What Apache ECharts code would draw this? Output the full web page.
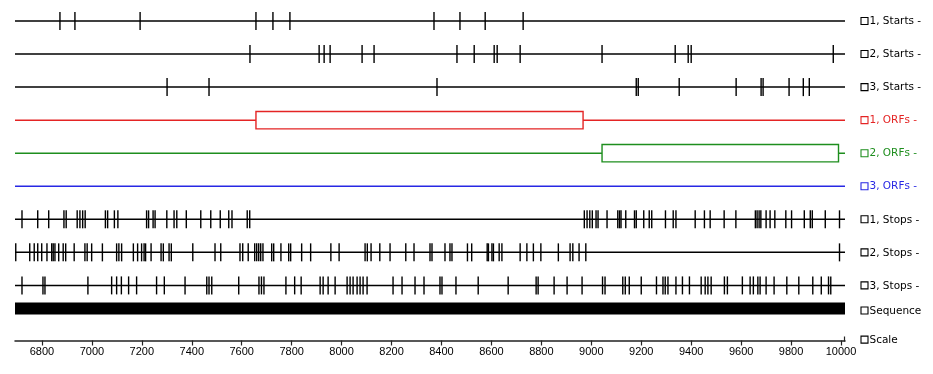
<!DOCTYPE html>
<html><head><meta charset="utf-8">
<script src="https://cdn.jsdelivr.net/npm/echarts@6/dist/echarts.min.js"></script>
<style>html,body{margin:0;padding:0;background:#fff}#c{width:933px;height:374px}</style>
</head><body><div id="c"></div>
<script>
// ---- data ----
const seqStart = 6692, seqEnd = 10016;
const scaleTicks = [6800,7000,7200,7400,7600,7800,8000,8200,8400,8600,8800,9000,9200,9400,9600,9800,10000];
const rowLabels = ['1, Starts -','2, Starts -','3, Starts -','1, ORFs -','2, ORFs -','3, ORFs -','1, Stops -','2, Stops -','3, Stops -','Sequence','Scale'];
const starts1 = [6872,6932,7193,7657,7725,7793,8370,8474,8575,8727];
const starts2 = [7633,7910,7930,7954,8082,8130,8462,8531,8611,8623,8715,9043,9336,9388,9400,9969];
const starts3 = [7301,7469,8382,9180,9188,9352,9580,9680,9688,9792,9849,9873];
const orfs1 = [[7657,8967]];
const orfs2 = [[9043,9990]];
const orfs3 = [];
const stops1 = [6720,6783,6827,6888,6897,6941,6952,6963,6973,7054,7063,7090,7104,7219,7227,7245,7253,7300,7329,7340,7378,7436,7476,7514,7548,7561,7622,7632,8972,8983,8994,9004,9019,9027,9063,9106,9113,9119,9138,9173,9180,9210,9232,9242,9297,9328,9339,9416,9453,9476,9532,9579,9657,9664,9672,9679,9700,9716,9735,9779,9802,9853,9877,9885,9937,9994];
const stops2 = [6695,6751,6769,6783,6799,6820,6839,6845,6852,6867,6885,6895,6929,6972,6981,6999,7042,7099,7108,7119,7166,7183,7199,7209,7215,7237,7277,7286,7309,7318,7404,7493,7516,7593,7604,7626,7652,7660,7668,7676,7685,7720,7728,7757,7788,7796,7840,7876,7957,7990,8094,8103,8118,8153,8194,8257,8290,8354,8362,8414,8434,8442,8504,8521,8583,8588,8602,8608,8631,8642,8715,8742,8768,8798,8868,8915,8926,8951,8978,9994];
const stops3 = [6720,6804,6812,6984,7079,7099,7118,7147,7179,7259,7290,7373,7460,7469,7480,7588,7669,7679,7689,7777,7812,7838,7914,7926,7946,7974,8022,8034,8046,8062,8074,8086,8102,8206,8242,8294,8330,8394,8402,8458,8547,8667,8779,8787,8851,8903,8963,9045,9055,9126,9136,9152,9200,9261,9287,9296,9307,9339,9365,9393,9440,9456,9467,9480,9533,9545,9605,9636,9649,9667,9676,9700,9732,9783,9831,9887,9921,9950,9959];

// ---- layout / styling ----
const Y_MIN = -0.5, Y_MAX = 9.667;
const rowPos = [0,1,2,3,4,5,6,7,8,8.7,Y_MAX];
const labelPos = [0,1,2,3,4,5,6,7,8,8.76,9.64];
const RED = '#e42424', GREEN = '#1e8e1e', BLUE = '#2828e4';
const rowColor = ['#000','#000','#000',RED,GREEN,BLUE,'#000','#000','#000','#000','#000'];
const textColor = ['#000','#000','#000',RED,GREEN,BLUE,'#000','#000','#000','#000','#000'];
const tickRows = [[starts1,0],[starts2,1],[starts3,2],[stops1,6],[stops2,7],[stops3,8]];
const orfRows = [[orfs1,3],[orfs2,4],[orfs3,5]];

const series = [];
// track lines
series.push({
  type:'custom', clip:false, silent:true, z:1,
  data:[0,1,2,3,4,5,6,7,8].map(r=>[r]),
  renderItem(params, api){
    const r = api.value(0);
    const a = api.coord([seqStart, rowPos[r]]), b = api.coord([seqEnd, rowPos[r]]);
    return {type:'line', shape:{x1:a[0],y1:a[1],x2:b[0],y2:b[1]}, style:{stroke:rowColor[r], lineWidth:1.5}};
  }
});
// ORF boxes
orfRows.forEach(([arr,row])=>{
  series.push({
    type:'custom', clip:false, silent:true, z:2,
    data: arr.map(d=>[d[0], d[1], row]),
    renderItem(params, api){
      const r = api.value(2);
      const a = api.coord([api.value(0), rowPos[r]]), b = api.coord([api.value(1), rowPos[r]]);
      return {type:'rect', shape:{x:a[0], y:a[1]-8.7, width:b[0]-a[0], height:17.4},
        style:{fill:'#fff', stroke:rowColor[r], lineWidth:1.4}};
    }
  });
});
// start/stop ticks
tickRows.forEach(([arr,row])=>{
  series.push({
    type:'custom', clip:false, silent:true, z:3,
    data: arr.map(v=>[v,row]),
    renderItem(params, api){
      const p = api.coord([api.value(0), rowPos[api.value(1)]]);
      return {type:'line', shape:{x1:p[0],y1:p[1]-9,x2:p[0],y2:p[1]+9}, style:{stroke:'#000', lineWidth:1.4}};
    }
  });
});
// sequence bar
series.push({
  type:'custom', clip:false, silent:true, z:2,
  data:[[seqStart, seqEnd, 9]],
  renderItem(params, api){
    const r = api.value(2);
    const a = api.coord([api.value(0), rowPos[r]]), b = api.coord([api.value(1), rowPos[r]]);
    return {type:'rect', shape:{x:a[0], y:a[1]-6, width:b[0]-a[0], height:12}, style:{fill:'#000'}};
  }
});
// scale end tick
series.push({
  type:'custom', clip:false, silent:true, z:3,
  data:[[seqEnd, 10]],
  renderItem(params, api){
    const p = api.coord([api.value(0), rowPos[api.value(1)]]);
    return {type:'line', shape:{x1:p[0]-0.5,y1:p[1]-4,x2:p[0]-0.5,y2:p[1]+1}, style:{stroke:'#222', lineWidth:1.2}};
  }
});
// right-hand labels
series.push({
  type:'custom', clip:false, silent:true, z:4,
  data: rowLabels.map((t,i)=>[seqEnd, i]),
  renderItem(params, api){
    const i = api.value(1);
    const p = api.coord([api.value(0), labelPos[i]]);
    return {type:'group', children:[
      {type:'rect', shape:{x:p[0]+16, y:p[1]-3.5, width:7, height:7}, style:{fill:'#fff', stroke:textColor[i], lineWidth:1.1}},
      {type:'text', style:{x:p[0]+24.5, y:p[1]+0.5, text:rowLabels[i], fill:textColor[i],
        font:'10.5px "DejaVu Sans"', verticalAlign:'middle', align:'left'}}
    ]};
  }
});

const chart = echarts.init(document.getElementById('c'), null, {renderer:'canvas'});
chart.setOption({
  animation:false,
  backgroundColor:'#fff',
  grid:{left:15, right:88, top:4.5, bottom:33.5, containLabel:false},
  xAxis:{
    type:'value', min:seqStart, max:seqEnd, position:'bottom',
    axisLine:{onZero:false, lineStyle:{color:'#222', width:1.5}},
    axisTick:{customValues:scaleTicks, length:5, lineStyle:{color:'#222', width:1.2}},
    axisLabel:{customValues:scaleTicks, color:'#000', fontSize:11, fontFamily:'Liberation Sans', margin:6,
      formatter: v => String(v)},
    splitLine:{show:false}
  },
  yAxis:{type:'value', min:Y_MIN, max:Y_MAX, inverse:true, show:false, splitLine:{show:false}},
  series
});
</script></body></html>
